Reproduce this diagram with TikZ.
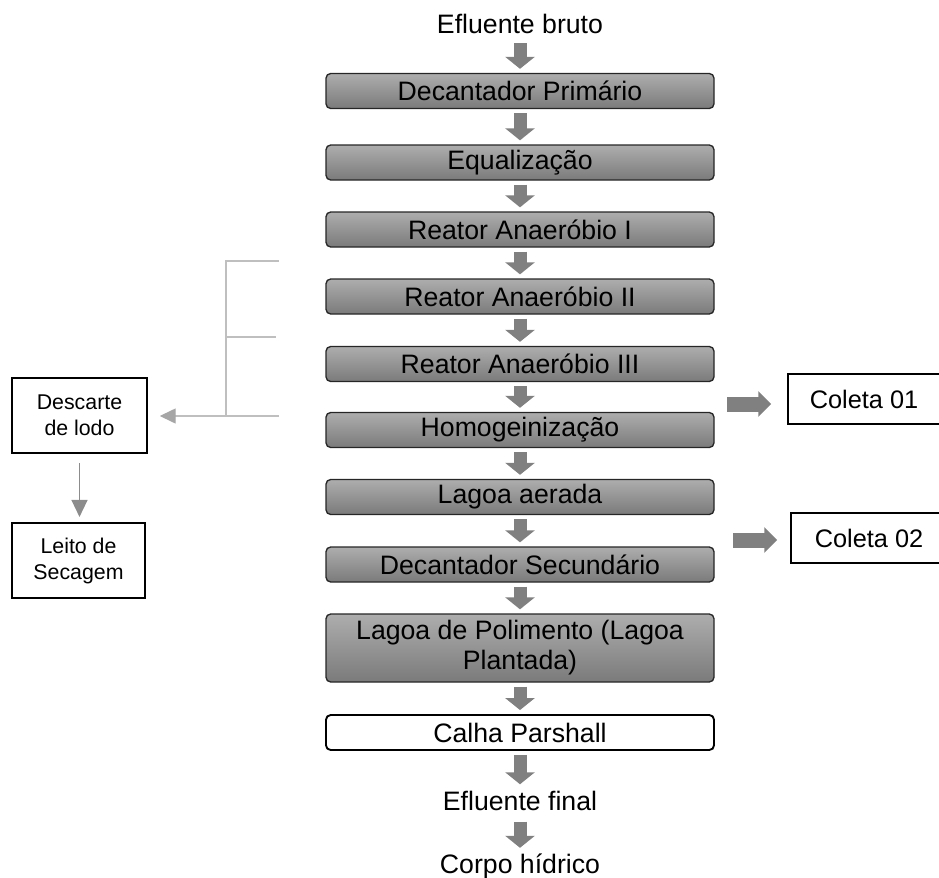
\documentclass[tikz,border=0pt]{standalone}
\usepackage{fontspec}
\setmainfont{Liberation Sans}
\usetikzlibrary{arrows.meta}

\definecolor{setagris}{HTML}{808080}
\definecolor{linhagris}{HTML}{BFBFBF}

\begin{document}
\begin{tikzpicture}[x=0.75pt,y=-0.75pt,
    etapa/.style={draw=black!85,line width=1pt,rounded corners=3.5pt,
      top color=black!32,bottom color=black!52,minimum width=291pt,
      minimum height=26.25pt,inner sep=0pt,align=center,
      font=\fontsize{20}{22.5}\selectfont},
    rotulo/.style={inner sep=2pt,font=\fontsize{20}{24}\selectfont},
    caixa/.style={draw=black,line width=1.1pt,align=center,inner sep=0pt},
    seta/.style={draw=setagris,line width=9.75pt,
      -{Triangle[width=21.75pt,length=9pt]},shorten <=3pt,shorten >=3pt},
    setalado/.style={draw=setagris,line width=11.25pt,
      -{Triangle[width=18.75pt,length=9.75pt]}},
    lodo/.style={draw=linhagris,line width=1.1pt}
  ]
	\useasboundingbox (0,0) rectangle (939,878);

	% coluna principal
	\node[rotulo] (bruto) at (520,24) {Efluente bruto};
	\node[etapa] (dec1) at (520,91) {Decantador Primário};
	\node[etapa] (equal) at (520,162.5) {Equalização};
	\node[etapa] (rea1) at (520,229.5) {Reator Anaeróbio I};
	\node[etapa] (rea2) at (520,296.5) {Reator Anaeróbio II};
	\node[etapa] (rea3) at (520,364) {Reator Anaeróbio III};
	\node[etapa] (homog) at (520,430) {Homogeinização};
	\node[etapa] (aerada) at (520,497) {Lagoa aerada};
	\node[etapa] (dec2) at (520,564.5) {Decantador Secundário};
	\node[etapa,minimum height=51pt] (polim) at (520,648) {Lagoa de Polimento (Lagoa\\Plantada)};
	\node[etapa,draw=black,line width=1.4pt,fill=white,top color=white,bottom color=white] (calha) at (520,732.5) {Calha Parshall};
	\node[rotulo] (final) at (520,801) {Efluente final};
	\node[rotulo] (corpo) at (520,866) {Corpo hídrico};

	\draw[seta,shorten <=5pt] (bruto) -- (dec1);
	\draw[seta] (dec1) -- (equal);
	\draw[seta] (equal) -- (rea1);
	\draw[seta] (rea1) -- (rea2);
	\draw[seta] (rea2) -- (rea3);
	\draw[seta] (rea3) -- (homog);
	\draw[seta] (homog) -- (aerada);
	\draw[seta] (aerada) -- (dec2);
	\draw[seta] (dec2) -- (polim);
	\draw[seta] (polim) -- (calha);
	\draw[seta] (calha) -- (final);
	\draw[seta,shorten <=6pt,shorten >=2pt] (final) -- (corpo);

	% coletas
	\node[caixa,minimum width=114pt,minimum height=37.5pt,font=\fontsize{19}{22}\selectfont] (col1) at (864,399) {Coleta 01};
	\node[caixa,minimum width=117pt,minimum height=37.5pt,font=\fontsize{19}{22}\selectfont] (col2) at (869,538) {Coleta 02};
	\coordinate (c1) at (727,404);
	\coordinate (c2) at (733,540);
	\draw[setalado] (c1) -- (c1 -| col1.west) [shorten >=12pt];
	\draw[setalado,shorten >=9.75pt] (c2) -- (c2 -| col2.west);

	% descarte de lodo
	\node[caixa,minimum width=101.25pt,minimum height=56.25pt,font=\fontsize{16}{19.5}\selectfont] (descarte) at (79.5,415.5) {Descarte\\de lodo};
	\node[caixa,minimum width=99.75pt,minimum height=56.25pt,font=\fontsize{16}{19.5}\selectfont] (leito) at (78.5,560.5) {Leito de\\Secagem};
	\coordinate (l1) at (279,261);
	\coordinate (l2) at (276,337);
	\coordinate (l3) at (279,416);
	\coordinate (lv) at (226,261);
	\draw[lodo] (l1) -- (lv) -- (lv |- l3);
	\draw[lodo] (l2) -- (l2 -| lv);
	\draw[lodo,-{Triangle[width=11.25pt,length=12pt,color=black!35]}] (l3) -- (descarte.east |- l3) [shorten >=9pt];
	\draw[draw=black!45,line width=1.1pt,-{Triangle[width=12pt,length=12.75pt]},shorten <=7pt,shorten >=4pt] (descarte) -- (descarte |- leito.north);
\end{tikzpicture}
\end{document}
